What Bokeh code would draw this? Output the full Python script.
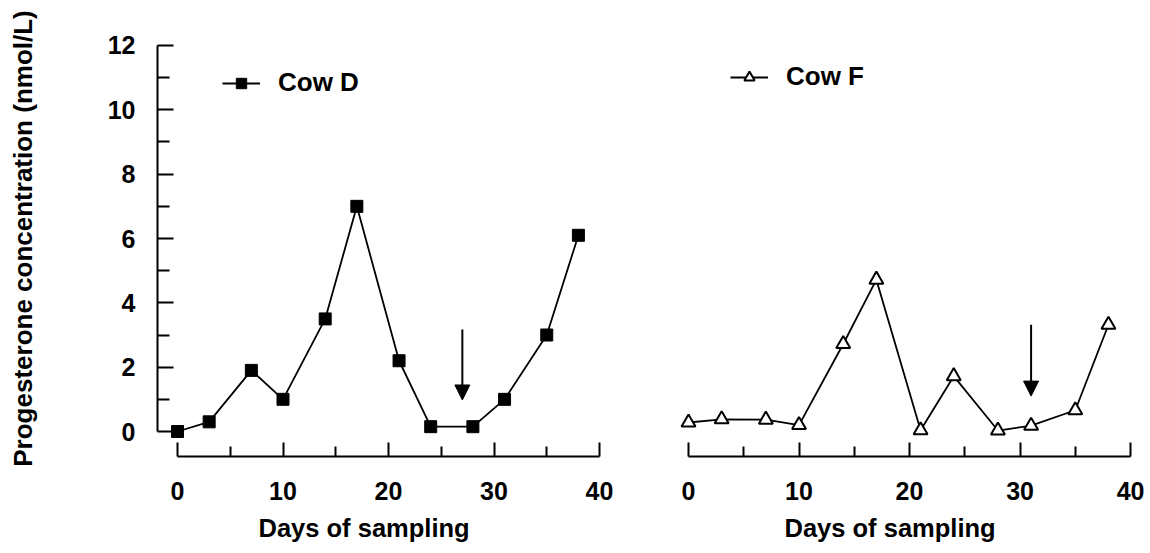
from bokeh.plotting import figure
from bokeh.layouts import row
from bokeh.models import FixedTicker, Legend, LegendItem, Arrow, NormalHead, Range1d, Title
from bokeh.embed import file_html
from bokeh.resources import INLINE

# Sampling days and progesterone concentrations (nmol/L)
days = [0, 3, 7, 10, 14, 17, 21, 24, 28, 31, 35, 38]
cow_d = [0.0, 0.3, 1.9, 1.0, 3.5, 7.0, 2.2, 0.15, 0.15, 1.0, 3.0, 6.1]
cow_f = [0.28, 0.38, 0.37, 0.2, 2.72, 4.72, 0.04, 1.72, 0.03, 0.18, 0.66, 3.32]

# Treatment arrows (day, start level, tip level) for Cow D and Cow F
arrow_days = [27, 31]
arrow_tops = [3.17, 3.32]
arrow_tips = [0.98, 1.1]

# Axis ticks
y_major = [0, 2, 4, 6, 8, 10, 12]
y_minor = [1, 3, 5, 7, 9, 11]
x_major = [0, 10, 20, 30, 40]
x_minor = [5, 15, 25, 35]

FONT = "Liberation Sans"
H = 553
Y_RANGE = (-0.777, 12.777)


def make_panel(width, x_range, border_left, border_right, with_y_axis):
    p = figure(width=width, height=H, x_range=Range1d(*x_range), y_range=Range1d(*Y_RANGE),
               output_backend="svg", toolbar_location=None,
               y_axis_location="left" if with_y_axis else None,
               min_border_left=border_left, min_border_right=border_right,
               min_border_top=20, min_border_bottom=97)
    p.grid.visible = False
    p.outline_line_color = None
    p.background_fill_color = "white"
    p.border_fill_color = "white"

    xa = p.xaxis[0]
    xa.ticker = FixedTicker(ticks=x_major, minor_ticks=x_minor)
    xa.bounds = (0, 40)
    xa.axis_line_width = 2
    xa.major_tick_in = 14
    xa.major_tick_out = 0
    xa.minor_tick_in = 10
    xa.minor_tick_out = 0
    xa.major_tick_line_width = 2
    xa.minor_tick_line_width = 2
    xa.major_label_text_font = FONT
    xa.major_label_text_font_style = "bold"
    xa.major_label_text_font_size = "25px"
    xa.major_label_text_color = "black"
    xa.major_label_standoff = 25

    if with_y_axis:
        ya = p.yaxis[0]
        ya.ticker = FixedTicker(ticks=y_major, minor_ticks=y_minor)
        ya.bounds = (0, 12)
        ya.axis_line_width = 2
        ya.major_tick_in = 16
        ya.major_tick_out = 0
        ya.minor_tick_in = 12
        ya.minor_tick_out = 0
        ya.major_tick_line_width = 2
        ya.minor_tick_line_width = 2
        ya.major_label_text_font = FONT
        ya.major_label_text_font_style = "bold"
        ya.major_label_text_font_size = "25px"
        ya.major_label_text_color = "black"
        ya.major_label_standoff = 22
        ya.axis_label = "Progesterone concentration (nmol/L)"
        ya.axis_label_text_font = FONT
        ya.axis_label_text_font_style = "bold"
        ya.axis_label_text_font_size = "26px"
        ya.axis_label_text_color = "black"
        ya.axis_label_standoff = 67
    return p


def add_caption(p, offset):
    # x caption as a left-aligned title under the axis, shifted by `offset` pixels
    p.add_layout(Title(text="Days of sampling", align="left", offset=offset, text_font=FONT,
                       text_font_style="bold", text_font_size="25.5px", text_color="black",
                       standoff=19), "below")


def add_legend(p, label, renderers, loc):
    leg = Legend(items=[LegendItem(label=label, renderers=renderers)], location=loc,
                 border_line_color=None, background_fill_alpha=0, padding=0, margin=0,
                 glyph_width=38, glyph_height=26, label_standoff=18,
                 label_text_font=FONT, label_text_font_style="bold",
                 label_text_font_size="26px", label_text_color="black")
    p.add_layout(leg)


def add_arrow(p, i):
    p.add_layout(Arrow(end=NormalHead(size=15, fill_color="black", line_color="black", line_width=1),
                       x_start=arrow_days[i], y_start=arrow_tops[i],
                       x_end=arrow_days[i], y_end=arrow_tips[i],
                       line_color="black", line_width=2))


# Cow D panel
p1 = make_panel(640, (-1.896, 41.99), 157, 20, True)
l1 = p1.line(days, cow_d, line_color="black", line_width=1.8)
s1 = p1.scatter(days, cow_d, marker="square", size=12, fill_color="black", line_color="black")
add_arrow(p1, 0)
add_legend(p1, "Cow D", [l1, s1], (65, 358))
add_caption(p1, 101)

# Cow F panel
p2 = make_panel(510, (-1.629, 40.9), 30, 10, False)
l2 = p2.line(days, cow_f, line_color="black", line_width=1.8)
s2 = p2.scatter(days, cow_f, marker="triangle", size=14, fill_color="white",
                line_color="black", line_width=2)
add_arrow(p2, 1)
add_legend(p2, "Cow F", [l2, s2], (60, 364))
add_caption(p2, 114)

layout = row(p1, p2)
open("out.html", "w").write(file_html(layout, INLINE))
